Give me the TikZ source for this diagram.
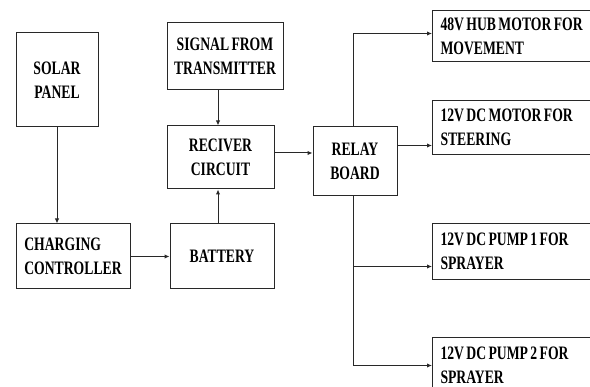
\documentclass[tikz,border=0pt]{standalone}
\usepackage{fontspec}
\newfontfamily\diagfont{Liberation Serif}[FakeStretch=0.72, WordSpace=0.7]
\usetikzlibrary{arrows.meta}
\definecolor{linegray}{RGB}{40, 40, 40}

\begin{document}
\begin{tikzpicture}[x=1pt, y=-1pt, >={Latex[length=5pt, width=4.5pt]},
    block/.style={
        draw=linegray, line width=1pt, align=center, inner sep=0pt,
        text=black, font=\diagfont\bfseries\fontsize{19}{24}\selectfont
    },
    outblock/.style={
        block, anchor=north west, align=flush left, text width=170pt,
        inner xsep=8pt, minimum height=56pt
    },
    signal/.style={->, line width=1pt, linegray},
    wire/.style={-, line width=1pt, linegray},
]

% --- Marco ---
\useasboundingbox (0,0) rectangle (590,387);
\clip (0,0) rectangle (590,387);

% --- Coordenadas ---
\def\xout{432}

% --- Bloques de la izquierda ---
\node[block, minimum width=82pt, minimum height=94pt] (solar) at (57, 80) {SOLAR\\PANEL};
\node[block, minimum width=114pt, minimum height=65pt, align=flush left] (charger) at (73, 256.5) {CHARGING\\CONTROLLER};
\node[block, minimum width=116pt, minimum height=67pt] (signal_tx) at (225, 56.5) {SIGNAL FROM\\TRANSMITTER};
\node[block, minimum width=107pt, minimum height=63pt] (receiver) at (220.5, 157.5) {RECIVER\\CIRCUIT};
\node[block, minimum width=104pt, minimum height=65pt] (battery) at (222, 256.5) {BATTERY};
\node[block, minimum width=84pt, minimum height=69pt] (relay) at (355, 161.5) {RELAY\\BOARD};

% --- Cargas de la derecha ---
\node[outblock, minimum height=51pt] (hub) at (\xout, 10) {48V HUB MOTOR FOR\\MOVEMENT};
\node[outblock, minimum height=54pt] (steer) at (\xout, 100) {12V DC MOTOR FOR\\STEERING};
\node[outblock] (pump_a) at (\xout, 223) {12V DC PUMP 1 FOR\\SPRAYER};
\node[outblock] (pump_b) at (\xout, 337) {12V DC PUMP 2 FOR\\SPRAYER};

% --- Alimentacion ---
\draw[signal] (solar.south) -- (solar.south |- charger.north);
\draw[signal] (charger.east) -- (charger.east -| battery.west);
\draw[signal] ([xshift=-4pt]battery.north) -- ([xshift=-4pt]battery.north |- receiver.south);

% --- Control ---
\draw[signal] ([xshift=-2.5pt]receiver.north |- signal_tx.south) -- ([xshift=-2.5pt]receiver.north);
\draw[signal] ([yshift=4.5pt]receiver.east) -- ([yshift=4.5pt]receiver.east -| relay.west);

% --- Salidas del rele ---
\draw[signal] ([xshift=-2pt]relay.north) |- ([yshift=2.5pt]hub.west);
\draw[signal] ([yshift=16pt]relay.east) -- ([yshift=16pt]relay.east -| steer.west);
\draw[signal] ([xshift=-2pt]relay.south) |- (pump_b.west);
\draw[signal] ([xshift=-2pt]relay.south |- pump_a.west) ++(0,15) -- ([yshift=-15pt]pump_a.west);

\end{tikzpicture}
\end{document}
